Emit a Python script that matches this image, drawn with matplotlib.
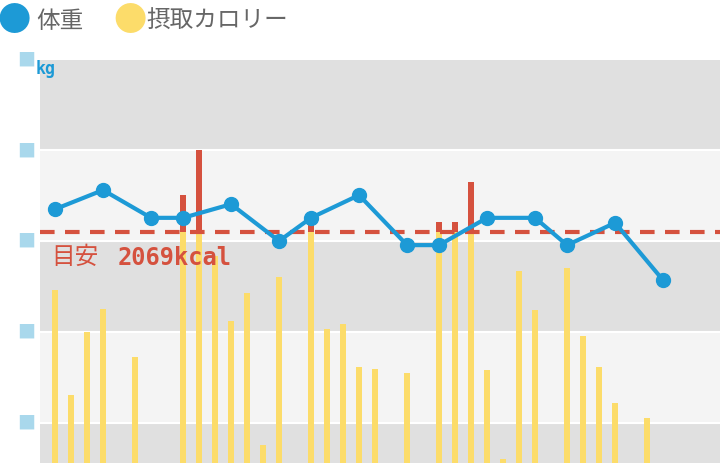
import matplotlib.pyplot as plt

plt.rcParams['font.family'] = ['Noto Sans CJK JP', 'DejaVu Sans']

days_w = [0, 3, 6, 8, 11, 14, 16, 19, 22, 24, 27, 30, 32, 35, 38]
weight = [54.70, 55.12, 54.51, 54.51, 54.81, 54.00, 54.51, 55.01, 53.91, 53.91,
          54.51, 54.51, 53.91, 54.40, 53.14]

days_c = [0, 1, 2, 3, 5, 8, 9, 10, 11, 12, 13, 14, 16, 17, 18, 19, 20, 22, 24, 25,
          26, 27, 28, 29, 30, 32, 33, 34, 35, 37]
kcal = [1563, 646, 1196, 1397, 978, 2392, 2785, 1859, 1292, 1536, 210, 1676, 2165,
        1222, 1266, 890, 873, 838, 2156, 2156, 2506, 864, 87, 1728, 1388, 1755,
        1161, 890, 576, 445]
target = 2069

fig = plt.figure(figsize=(7.2, 4.64), dpi=100)
ax = fig.add_axes([40 / 720, 0, 680 / 720, 403 / 464])
ax.set_xlim(-0.94, 41.56)
ax.set_ylim(49.12, 57.98)

bands = [(48, 50, '#e0e0e0'), (50, 52, '#f4f4f4'), (52, 54, '#e0e0e0'),
         (54, 56, '#f4f4f4'), (56, 58, '#e0e0e0')]
for lo, hi, c in bands:
    ax.axhspan(lo, hi, color=c, lw=0, zorder=0)
    ax.axhline(lo, color='white', lw=1.5, zorder=0.5)

ax2 = ax.twinx()
ax2.set_ylim(52, 3571)
low = [min(v, target) for v in kcal]
high = [max(v - target, 0) for v in kcal]
ax2.bar(days_c, low, width=0.33, color='#fcdc6a', zorder=1)
ax2.bar(days_c, high, bottom=low, width=0.33, color='#d5513e', zorder=1)
ax2.axhline(target, color='#d5513e', lw=3, ls=(0, (3.5, 2.5)), zorder=2)
ax2.text(-0.25, target - 110, '目安', color='#d5513e', fontsize=17,
         va='top', ha='left')
ax2.text(3.9, target - 110, '2069kcal', color='#d5513e', fontsize=17,
         va='top', ha='left', family='DejaVu Sans Mono', fontweight='bold')

ax3 = ax.twinx()
ax3.set_ylim(ax.get_ylim())
ax3.plot(days_w, weight, color='#1d9ad6', lw=3, marker='o', ms=10, zorder=3)

for a in (ax, ax2, ax3):
    a.set_xticks([])
    a.set_yticks([])
    for s in a.spines.values():
        s.set_visible(False)

for t in [50, 52, 54, 56, 58]:
    ax.text(-0.94 - 0.3, t, '■', color='#a9d8ec', fontsize=13, ha='right', va='center',
            clip_on=False)
ax.text(-1.2, 58.0, 'kg', color='#1d9ad6', fontsize=12, ha='left', va='top',
        family='DejaVu Sans Mono', fontweight='bold', clip_on=False)

fig.text(-0.004, 0.953, '●', color='#1d9ad6', fontsize=24, va='center')
fig.text(0.05, 0.953, '体重', color='#666666', fontsize=17, va='center')
fig.text(0.158, 0.953, '●', color='#fcdc6a', fontsize=24, va='center')
fig.text(0.203, 0.953, '摂取カロリー', color='#666666', fontsize=17, va='center')

fig.savefig('out.png')
